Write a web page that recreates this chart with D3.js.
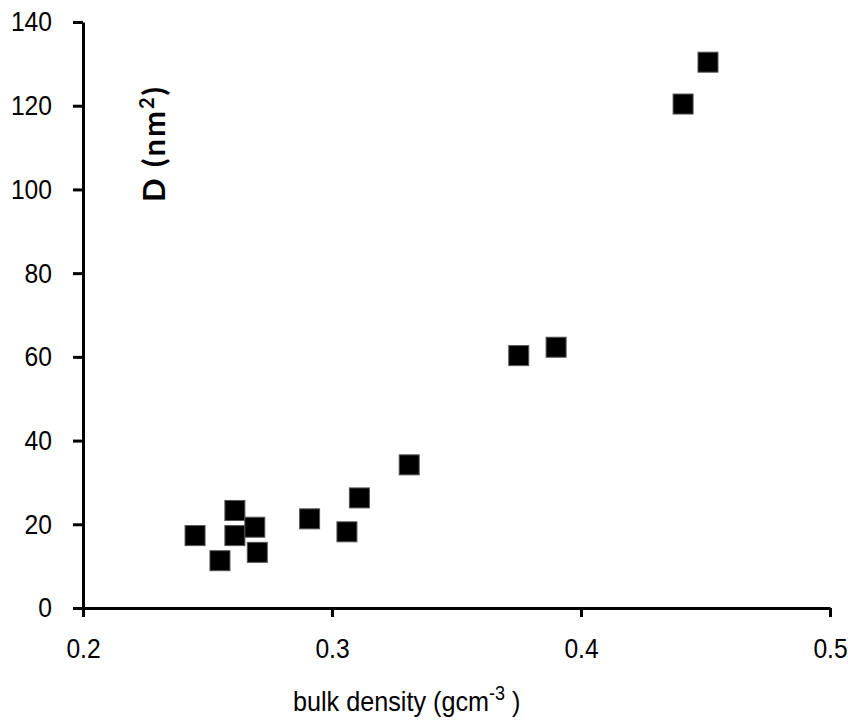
<!DOCTYPE html>
<html>
<head>
<meta charset="utf-8">
<script src="https://cdn.jsdelivr.net/npm/d3@7"></script>
<style>
  body { margin: 0; background: #fff; }
  svg { display: block; }
  .tick text { font-family: "Liberation Sans", Arial, sans-serif; font-size: 28px; fill: #000; }
</style>
</head>
<body>
<div id="chart"></div>
<script>
// bulk density (g cm-3) vs D (nm2)
const density = [0.245, 0.255, 0.261, 0.261, 0.269, 0.270, 0.291, 0.306, 0.311, 0.331, 0.375, 0.390, 0.441, 0.451];
const dValues = [17.3, 11.3, 23.3, 17.3, 19.3, 13.3, 21.3, 18.2, 26.3, 34.2, 60.3, 62.3, 120.4, 130.4];
const xTicks = [0.2, 0.3, 0.4, 0.5];
const yTicks = [0, 20, 40, 60, 80, 100, 120, 140];

const width = 848, height = 724;
const margin = {top: 22, right: 18, bottom: 116, left: 83};

// the original uses a narrow face; squeeze text horizontally around its x
function condense(sel, k) {
  sel.each(function() {
    const t = d3.select(this);
    const ax = +t.attr("x") || 0;
    t.attr("transform", `translate(${ax},0) scale(${k},1) translate(${-ax},0)`);
  });
}

const svg = d3.select("#chart")
  .append("svg")
    .attr("width", width)
    .attr("height", height);

const x = d3.scaleLinear()
  .domain([0.2, 0.5])
  .range([margin.left, width - margin.right]);

const y = d3.scaleLinear()
  .domain([0, 140])
  .range([height - margin.bottom, margin.top]);

// x axis
const xAxis = svg.append("g")
  .attr("transform", `translate(0,${height - margin.bottom})`)
  .call(d3.axisBottom(x).tickValues(xTicks).tickFormat(d3.format(".1f"))
    .tickSize(9).tickSizeOuter(0).tickPadding(21));

// y axis
const yAxis = svg.append("g")
  .attr("transform", `translate(${margin.left},0)`)
  .call(d3.axisLeft(y).tickValues(yTicks).tickSize(10).tickSizeOuter(0).tickPadding(21));

condense(svg.selectAll(".tick text"), 0.88);

// thick black axis lines
svg.selectAll(".domain").attr("stroke", "#000").attr("stroke-width", 3);
svg.selectAll(".tick line").attr("stroke", "#000").attr("stroke-width", 3);

// square markers
const size = 20;
svg.selectAll("rect.pt")
  .data(density.map((d, i) => ({x: d, y: dValues[i]})))
  .join("rect")
    .attr("class", "pt")
    .attr("x", d => x(d.x) - size / 2)
    .attr("y", d => y(d.y) - size / 2)
    .attr("width", size)
    .attr("height", size)
    .attr("fill", "#000")
    .attr("stroke", "#555")
    .attr("stroke-width", 1);

// y title, rotated, inside the plot
const yTitle = svg.append("text")
  .attr("transform", "translate(165,202) rotate(-90)")
  .style("font-family", "Lato, 'Liberation Sans', sans-serif")
  .style("font-weight", "bold")
  .style("font-size", "31px")
  .style("letter-spacing", "2px")
  .style("fill", "#000");
yTitle.append("tspan").text("D (nm");
yTitle.append("tspan").attr("dy", -11).style("font-size", "20px").text("2");
yTitle.append("tspan").attr("dy", 11).text(")");

// x title
const xTitle = svg.append("text")
  .attr("transform", "translate(293,711) scale(0.9,1)")
  .style("font-family", "'Liberation Sans', sans-serif")
  .style("font-size", "28px")
  .style("fill", "#000");
xTitle.append("tspan").text("bulk density (gcm");
xTitle.append("tspan").attr("dy", -11).style("font-size", "20px").text("-3");
xTitle.append("tspan").attr("dy", 11).text(" )");
</script>
</body>
</html>
